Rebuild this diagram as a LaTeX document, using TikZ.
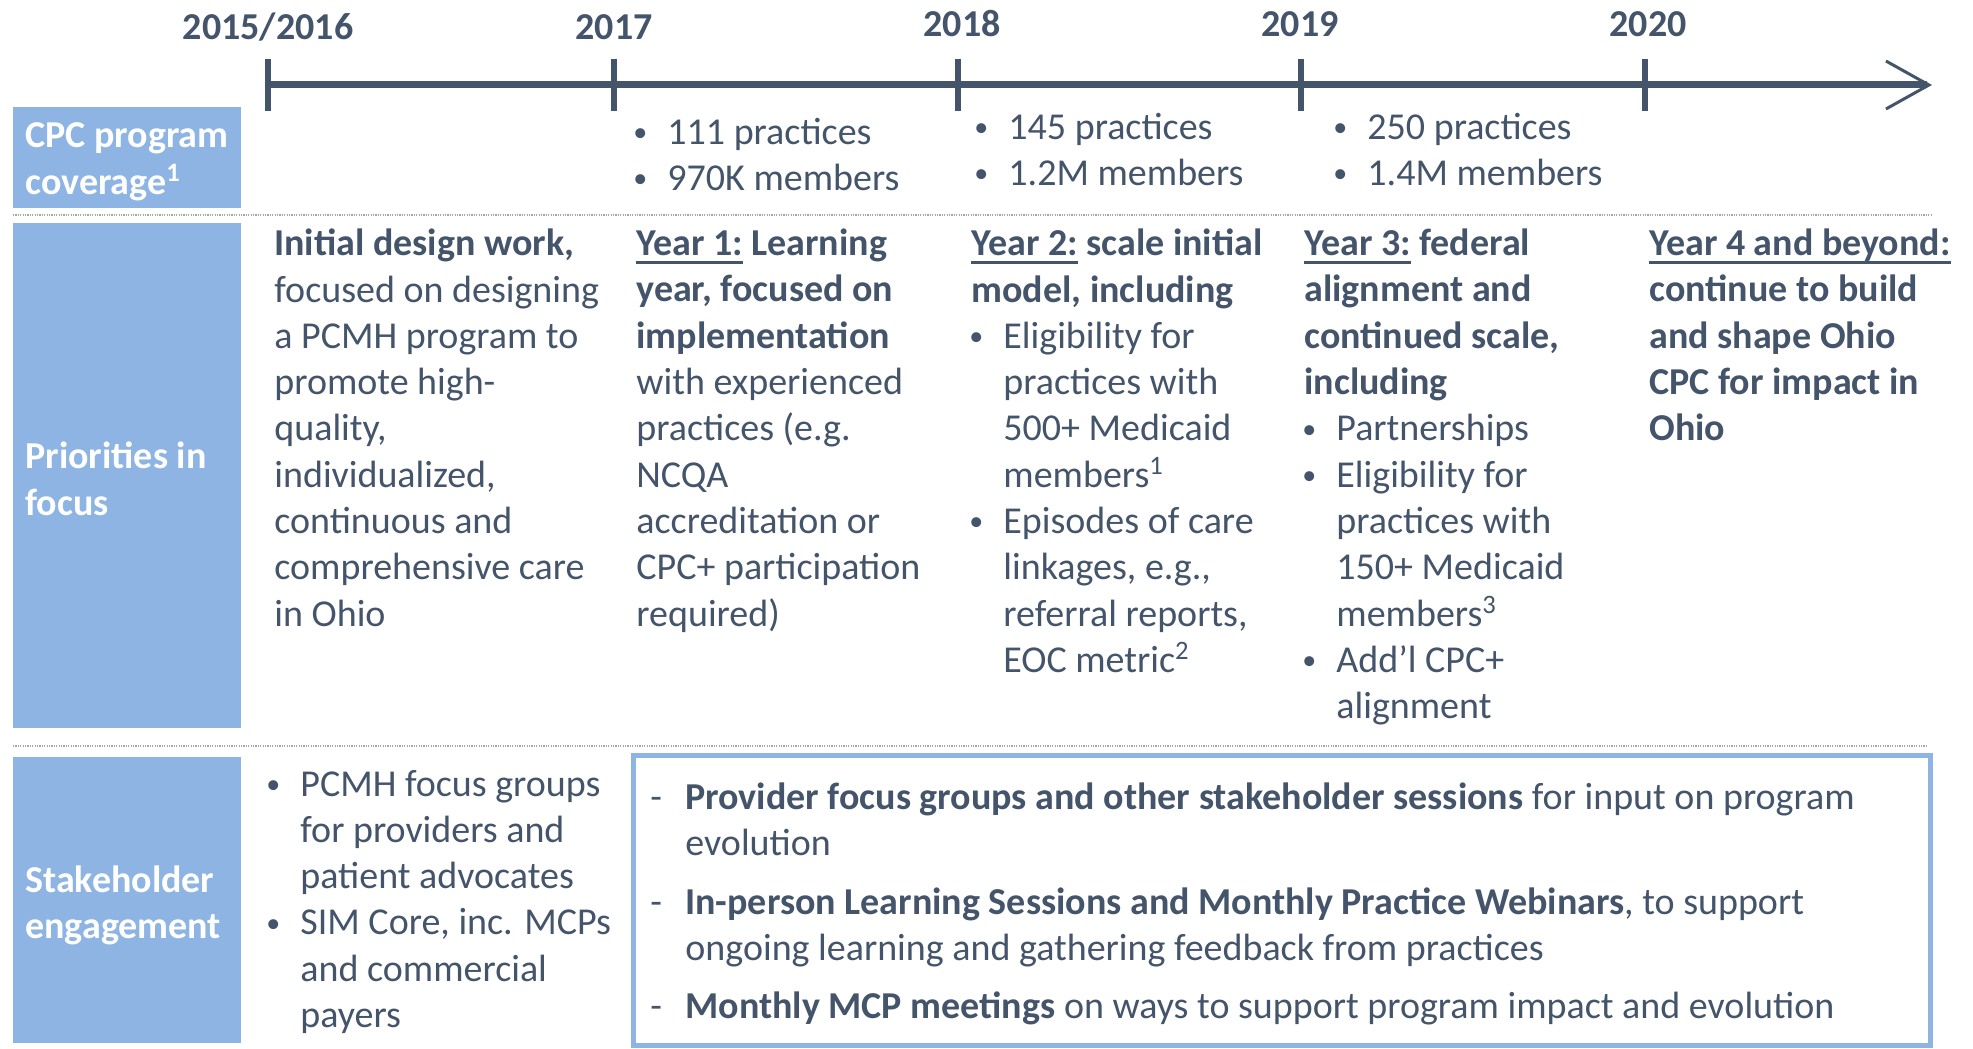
\documentclass[tikz,border=0pt]{standalone}
\usepackage{fontspec}
\setmainfont{Carlito}
\usetikzlibrary{arrows.meta}
\definecolor{ink}{HTML}{44546A}
\definecolor{bandblue}{HTML}{8DB4E2}
\definecolor{rulegray}{HTML}{A6A6A6}
\newcommand\bodyfont{\fontsize{19}{23.15}\selectfont}
\newcommand\bul{\makebox[16pt][l]{\makebox[5pt][c]{\fontsize{14}{14}\selectfont\raisebox{1.3pt}{•}}}}
\newcommand\ind{\hspace*{16pt}}
\newcommand\dsh{\makebox[17.5pt][l]{-}}
\newcommand\dind{\hspace*{17.5pt}}
\newsavebox\ulbox
\newcommand\yr[1]{\sbox\ulbox{#1}\rlap{\rule[-4.2pt]{\wd\ulbox}{1.4pt}}\usebox\ulbox}
\begin{document}
\begin{tikzpicture}[x=0.5pt, y=-0.5pt, inner sep=0pt,
  txt/.style={anchor=north west, align=left, text=ink, font=\bodyfont, yshift=-3.5pt, execute at begin node=\strut},
  head/.style={txt, text=white, font=\bodyfont\bfseries},
  year/.style={anchor=base, text=ink, font=\bodyfont\bfseries, yshift=-0.6pt},
  labelband/.style={fill=bandblue},
  axis/.style={draw=ink, line width=3.5pt},
  tick/.style={draw=ink, line width=3pt},
  sep/.style={draw=rulegray, line width=0.6pt, dash pattern=on 0.6pt off 0.6pt},
  panel/.style={draw=bandblue, line width=2.5pt, fill=white}]
\useasboundingbox (0,0) rectangle (1973,1048);

% timeline
\coordinate (tip) at (1932,85);
\foreach \n/\x in {a/268,b/614,c/958,d/1301,e/1645}
  \coordinate (\n) at (\x,85);
\draw[axis, -{Straight Barb[length=21.5pt,width=24pt,line width=1.5pt]}] (a) -- (tip);
\foreach \n in {a,b,c,d,e}
  \draw[tick] ([yshift=13pt]\n) -- ([yshift=-13pt]\n);
\node[year] (y1516) at (268,38) {2015/2016};
\node[year] (y17) at (614,38) {2017};
\node[year] (y18) at (962,35) {2018};
\node[year] (y19) at (1300,35) {2019};
\node[year] (y20) at (1648,35) {2020};

% row bands and separators
\fill[labelband] (13,107) rectangle (241,208);
\fill[labelband] (13,223) rectangle (241,728);
\fill[labelband] (13,757) rectangle (241,1043);
\draw[sep] (13,215) -- (1932,215);
\draw[sep] (13,746) -- (1928,746);
\draw[panel] (633,755) rectangle (1930,1045);

\node[head] (cpc) at (25,115.6) {CPC program\\coverage\textsuperscript{1}};
\node[head] (prio) at (25,434.6) {Priorities in\\focus};
\node[head] (stake) at (25,858.6) {Stakeholder\\engagement};

% coverage
\node[txt] (cov17) at (635,110.6) {\bul 111 practices\\\bul 970K members};
\node[txt] (cov18) at (976,105.6) {\bul 145 practices\\\bul 1.2M members};
\node[txt] (cov19) at (1335,105.6) {\bul 250 practices\\\bul 1.4M members};

% priorities
\node[txt] (pri1) at (274,221.6) {\textbf{Initial design work,}\\
  focused on designing\\a PCMH program to\\promote high-\\quality,\\
  individualized,\\continuous and\\comprehensive care\\in Ohio};
\node[txt] (pri2) at (636,221.6) {\textbf{\yr{Year 1:} Learning}\\
  \textbf{year, focused on}\\\textbf{implementation}\\with experienced\\
  practices (e.g.\\NCQA\\accreditation or\\CPC+ participation\\required)};
\node[txt] (pri3) at (971,221.6) {\textbf{\yr{Year 2:} scale initial}\\
  \textbf{model, including}\\\bul Eligibility for\\\ind practices with\\
  \ind 500+ Medicaid\\\ind members\textsuperscript{1}\\\bul Episodes of care\\
  \ind linkages, e.g.,\\\ind referral reports,\\\ind EOC metric\textsuperscript{2}};
\node[txt] (pri4) at (1304,221.6) {\textbf{\yr{Year 3:} federal}\\
  \textbf{alignment and}\\\textbf{continued scale,}\\\textbf{including}\\
  \bul Partnerships\\\bul Eligibility for\\\ind practices with\\
  \ind 150+ Medicaid\\\ind members\textsuperscript{3}\\\bul Add’l CPC+\\\ind alignment};
\node[txt, font=\bodyfont\bfseries] (pri5) at (1649,221.6) {\yr{Year 4 and beyond:}\\
  continue to build\\and shape Ohio\\CPC for impact in\\Ohio};

% stakeholder engagement
\node[txt] (stk1) at (268,762.6) {\bul PCMH focus groups\\\ind for providers and\\
  \ind patient advocates\\\bul SIM Core, inc. MCPs\\\ind and commercial\\\ind payers};
\node[txt] (stk2) at (650,775.6) {\dsh\textbf{Provider focus groups and other stakeholder sessions} for input on program\\
  \dind evolution\\[6pt]
  \dsh\textbf{In-person Learning Sessions and Monthly Practice Webinars}, to support\\
  \dind ongoing learning and gathering feedback from practices\\[6pt]
  \dsh\textbf{Monthly MCP meetings} on ways to support program impact and evolution};
\end{tikzpicture}
\end{document}
